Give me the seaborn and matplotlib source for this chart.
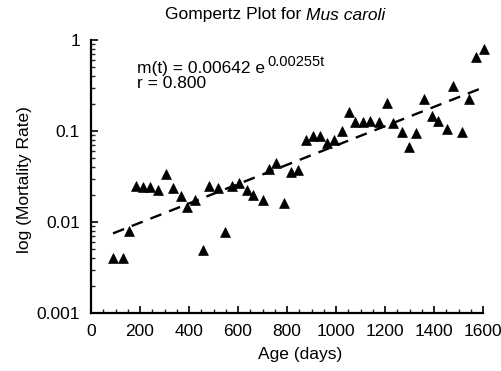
import numpy as np
import pandas as pd
import matplotlib
matplotlib.use("Agg")
import matplotlib.pyplot as plt
import matplotlib.ticker as mticker
import seaborn as sns

age_days = [90, 131, 155, 184, 212, 241, 273, 306, 335, 367, 392, 424, 457, 482,
            518, 547, 576, 604, 637, 661, 702, 727, 755, 788, 816, 845, 878, 906,
            935, 963, 992, 1024, 1053, 1078, 1110, 1139, 1176, 1208, 1233, 1270,
            1298, 1327, 1359, 1392, 1416, 1453, 1478, 1514, 1543, 1572, 1604]
mortality = [0.0040, 0.0040, 0.0080, 0.0249, 0.0243, 0.0243, 0.0225, 0.0337,
             0.0236, 0.0193, 0.0146, 0.0175, 0.0049, 0.0249, 0.0236, 0.0078,
             0.0249, 0.0268, 0.0225, 0.0198, 0.0175, 0.0382, 0.0445, 0.0162,
             0.0354, 0.0373, 0.0796, 0.0881, 0.0881, 0.0738, 0.0796, 0.100,
             0.162, 0.1256, 0.1256, 0.1288, 0.1256, 0.203, 0.1225, 0.0975,
             0.0667, 0.095, 0.225, 0.146, 0.1288, 0.105, 0.313, 0.0975, 0.225,
             0.65, 0.796]
fit_a = "0.00642"
fit_b = "0.00255"
fit_r = "0.800"
fit_line_age = [90, 1600]
fit_line_rate = [0.0075, 0.30]

sns.set_theme(style="white")
plt.rcParams['font.family'] = ['Liberation Sans', 'DejaVu Sans']

fig = plt.figure(figsize=(5.01, 3.71), dpi=100)
ax = fig.add_axes([91/501, 1 - 313/371, (483 - 91)/501, (313 - 40)/371])

df = pd.DataFrame({"age": age_days, "rate": mortality})
sns.scatterplot(data=df, x="age", y="rate", marker="^", color="black",
                s=50, edgecolor="black", linewidth=0.5, ax=ax, clip_on=False, zorder=3)

fit_df = pd.DataFrame({"age": fit_line_age, "rate": fit_line_rate})
sns.lineplot(data=fit_df, x="age", y="rate", color="black", linewidth=1.7,
             ax=ax, zorder=2)
ax.lines[-1].set_dashes([5, 3.5])

ax.set_yscale("log")
ax.set_ylim(0.001, 1)
ax.set_xlim(0, 1600)
ax.xaxis.set_major_locator(mticker.MultipleLocator(200))
ax.xaxis.set_minor_locator(mticker.MultipleLocator(50))
ax.yaxis.set_major_locator(mticker.LogLocator(base=10))
ax.yaxis.set_minor_locator(mticker.LogLocator(base=10, subs=np.arange(2, 10)))
ax.yaxis.set_major_formatter(mticker.FuncFormatter(lambda v, p: f"{v:g}"))
ax.yaxis.set_minor_formatter(mticker.NullFormatter())

ax.tick_params(which="major", direction="in", length=5, width=1.2, labelsize=12.5,
               colors="black", left=True, bottom=True, pad=8)
ax.tick_params(which="minor", direction="in", length=3, width=1.0,
               left=True, bottom=True)
for side in ["top", "right"]:
    ax.spines[side].set_visible(False)
for side in ["left", "bottom"]:
    ax.spines[side].set_color("black")
    ax.spines[side].set_linewidth(1.6)

ax.set_xlabel("Age (days)", fontsize=12.5, color="black")
ax.xaxis.set_label_coords((300 - 91) / 392, -(355 - 313) / 273, transform=ax.transAxes)
ax.xaxis.label.set_va("center")
ax.set_ylabel("log (Mortality Rate)", fontsize=12.5, color="black")
ax.yaxis.set_label_coords(-(91 - 25) / 392, (313 - 180) / 273, transform=ax.transAxes)
ax.yaxis.label.set_va("center")

# title: normal part + italic part
t1 = fig.text(165 / 501, 1 - 15 / 371, "Gompertz Plot for ", fontsize=12.5,
              color="black", va="center", ha="left")
fig.canvas.draw()
r = fig.canvas.get_renderer()
bb = t1.get_window_extent(r)
fig.text(bb.x1 / 501, 1 - 15 / 371, "Mus caroli", fontsize=12.5, style="italic",
         color="black", va="center", ha="left")

# equation with enlarged superscript
e1 = fig.text(137 / 501, 1 - 68 / 371, f"m(t) = {fit_a} e", fontsize=12.5,
              color="black", va="center", ha="left")
fig.canvas.draw()
bb = e1.get_window_extent(r)
fig.text(bb.x1 / 501 + 2 / 501, 1 - 62 / 371, f"{fit_b}t", fontsize=10.5,
         color="black", va="center", ha="left")
fig.text(137 / 501, 1 - 83 / 371, f"r = {fit_r}", fontsize=12.5, color="black",
         va="center", ha="left")

fig.savefig("out.png", dpi=100)
